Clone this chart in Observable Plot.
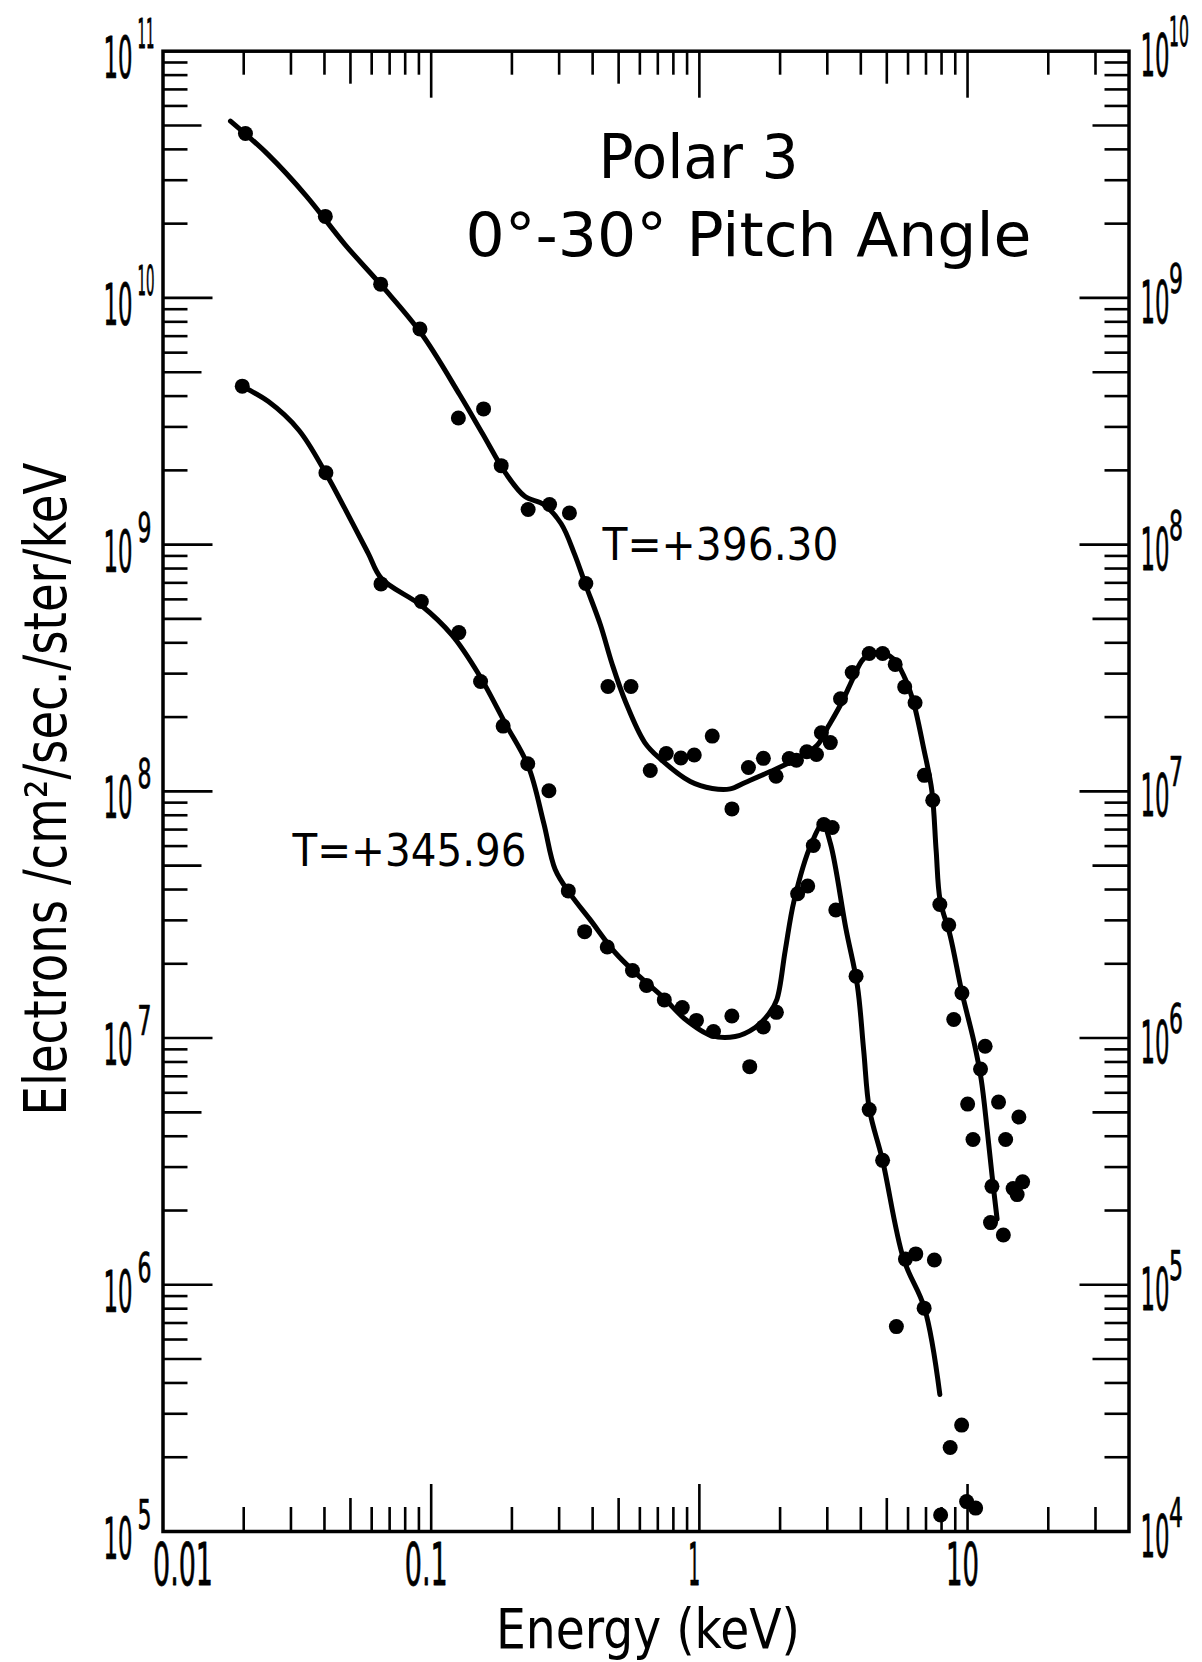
<!DOCTYPE html>
<html>
<head>
<meta charset="utf-8">
<script src="https://cdn.jsdelivr.net/npm/d3@7"></script>
<script src="https://cdn.jsdelivr.net/npm/@observablehq/plot@0.6"></script>
<style>
  html, body { margin: 0; padding: 0; background: #fff; }
</style>
</head>
<body>
<div id="chart"></div>
<script>
// ---------- DATA ----------
// T = +396.30 measured points (energy keV, flux)
const upperEnergy = [0.0203, 0.0403, 0.0648, 0.0908, 0.1263, 0.1568, 0.1824, 0.2299, 0.2763, 0.3277,
  0.3773, 0.4563, 0.5559, 0.6561, 0.7525, 0.8531, 0.957, 1.117, 1.323, 1.524,
  1.733, 1.932, 2.163, 2.301, 2.516, 2.733, 2.851, 3.078, 3.36, 3.715,
  4.298, 4.823, 5.373, 5.831, 6.373, 6.902, 7.418, 7.884, 8.509, 9.53,
  8.884, 11.63, 11.18, 10.01, 13.05, 15.54, 10.48, 13.87, 12.33, 16.05,
  14.79, 15.31, 12.18, 13.6];
const upperFlux = [4.64e10, 2.14e10, 1.137e10, 7.48e9, 3.26e9, 3.55e9, 2.09e9, 1.388e9, 1.454e9, 1.343e9,
  6.96e8, 2.66e8, 2.66e8, 1.215e8, 1.423e8, 1.365e8, 1.404e8, 1.675e8, 8.49e7, 1.249e8,
  1.361e8, 1.152e8, 1.358e8, 1.338e8, 1.448e8, 1.41e8, 1.728e8, 1.576e8, 2.373e8, 3.03e8,
  3.62e8, 3.62e8, 3.27e8, 2.65e8, 2.286e8, 1.161e8, 9.2e7, 3.477e7, 2.872e7, 1.522e7,
  1.189e7, 9.26e6, 7.49e6, 5.4e6, 5.5e6, 4.79e6, 3.88e6, 3.88e6, 2.506e6, 2.613e6,
  2.455e6, 2.32e6, 1.787e6, 1.591e6];

// T = +345.96 measured points
const lowerEnergy = [0.01975, 0.0405, 0.065, 0.0919, 0.1268, 0.1528, 0.1855, 0.2291, 0.2748, 0.3246,
  0.3734, 0.4535, 0.5631, 0.6351, 0.7401, 0.8635, 0.9754, 1.129, 1.322, 1.541,
  1.732, 1.938, 2.325, 2.535, 2.66, 2.911, 3.128, 3.227, 3.84, 4.298,
  4.823, 5.428, 5.866, 6.412, 6.889, 7.521, 8.614, 9.506, 7.937, 9.92, 10.72];
const lowerFlux = [4.39e9, 1.956e9, 6.93e8, 5.88e8, 4.4e8, 2.787e8, 1.839e8, 1.294e8, 1.006e8, 3.95e7,
  2.7e7, 2.338e7, 1.878e7, 1.635e7, 1.428e7, 1.329e7, 1.179e7, 1.063e7, 1.228e7, 7.66e6,
  1.11e7, 1.271e7, 3.844e7, 4.135e7, 6.035e7, 7.336e7, 7.135e7, 3.303e7, 1.782e7, 5.13e6,
  3.194e6, 6.77e5, 1.271e6, 1.334e6, 8.04e5, 1.26e6, 2.19e5, 2.7e5, 1.166e5, 1.322e5, 1.244e5];

// Hand-drawn fitted curves
const upperCurveEnergy = [0.01785, 0.02472, 0.03425, 0.04764, 0.06617, 0.0919, 0.1276, 0.1555, 0.1894, 0.2232,
  0.263, 0.3049, 0.3418, 0.3773, 0.4272, 0.4735, 0.5313, 0.6258, 0.7149, 0.925,
  1.117, 1.304, 1.483, 1.838, 2.277, 2.744, 3.023, 3.40, 3.756, 4.093,
  4.591, 5.294, 5.855, 6.287, 6.848, 7.36, 7.638, 7.904, 8.614, 9.53,
  10.54, 11.24, 11.83, 12.35, 12.89];
const upperCurveFlux = [5.21e10, 3.8e10, 2.588e10, 1.649e10, 1.105e10, 7.17e9, 4.06e9, 2.815e9, 1.949e9, 1.57e9,
  1.454e9, 1.218e9, 9.2e8, 6.83e8, 4.745e8, 3.266e8, 2.297e8, 1.577e8, 1.354e8, 1.096e8,
  1.027e8, 1.023e8, 1.086e8, 1.203e8, 1.345e8, 1.533e8, 1.83e8, 2.297e8, 2.9e8, 3.444e8,
  3.663e8, 3.444e8, 2.858e8, 2.297e8, 1.509e8, 1.007e8, 5.75e7, 3.609e7, 2.603e7, 1.529e7,
  9.77e6, 6.81e6, 4.27e6, 2.758e6, 1.845e6];

const lowerCurveEnergy = [0.01976, 0.02472, 0.03212, 0.04045, 0.05088, 0.05831, 0.06523, 0.0919, 0.1196, 0.1504,
  0.1894, 0.2305, 0.263, 0.29, 0.3309, 0.3901, 0.4851, 0.5818, 0.7305, 0.8763,
  1.11, 1.361, 1.616, 1.82, 1.945, 2.09, 2.256, 2.615, 2.886, 3.083,
  3.52, 3.883, 4.1, 4.309, 4.823, 5.77, 6.913, 7.884];
const lowerCurveFlux = [4.37e9, 3.8e9, 2.909e9, 1.949e9, 1.222e9, 9.2e8, 7.29e8, 5.665e8, 4.297e8, 2.983e8,
  1.876e8, 1.26e8, 7.42e7, 4.825e7, 3.823e7, 3.034e7, 2.222e7, 1.826e7, 1.468e7, 1.204e7,
  1.023e7, 1.014e7, 1.103e7, 1.257e7, 1.432e7, 2.263e7, 3.612e7, 6.13e7, 7.35e7, 6.13e7,
  2.774e7, 1.632e7, 8.9e6, 5.12e6, 3.187e6, 1.274e6, 8.03e5, 3.592e5];

// Axis ticks
const xTicksDecade = [0.1, 1, 10];
const xTicksFive = [0.05, 0.5, 5];
const xTicksMinor = [0.02, 0.03, 0.04, 0.06, 0.07, 0.08, 0.09,
  0.2, 0.3, 0.4, 0.6, 0.7, 0.8, 0.9,
  2, 3, 4, 6, 7, 8, 9, 20, 30];
const yTicksDecade = [1e6, 1e7, 1e8, 1e9, 1e10];
const yTicksFive = [5e5, 5e6, 5e7, 5e8, 5e9, 5e10];
const yTicksMinor = [
  2e5, 3e5, 4e5, 6e5, 7e5, 8e5, 9e5,
  2e6, 3e6, 4e6, 6e6, 7e6, 8e6, 9e6,
  2e7, 3e7, 4e7, 6e7, 7e7, 8e7, 9e7,
  2e8, 3e8, 4e8, 6e8, 7e8, 8e8, 9e8,
  2e9, 3e9, 4e9, 6e9, 7e9, 8e9, 9e9,
  2e10, 3e10, 4e10, 6e10, 7e10, 8e10, 9e10];

// Tick labels
const xLabelFirstValue = [0.01];
const xLabelFirstText = ["0.01"];
const xLabelValues = [0.1, 1, 10];
const xLabelTexts = ["0.1", "1", "10"];
const yLabelValues = [1e5, 1e6, 1e7, 1e8, 1e9, 1e10, 1e11];
const leftExponents = ["5", "6", "7", "8", "9", "10", "11"];
const rightExponents = ["4", "5", "6", "7", "8", "9", "10"];

// Texts
const titleLine1 = "Polar 3";
const titleLine2 = "0°-30° Pitch Angle";
const labelUpper = "T=+396.30";
const labelLower = "T=+345.96";
const yTitle = "Electrons /cm²/sec./ster/keV";
const xTitle = "Energy (keV)";

// ---------- TABLES ----------
const upperPts = upperEnergy.map((e, i) => ({e, f: upperFlux[i]}));
const lowerPts = lowerEnergy.map((e, i) => ({e, f: lowerFlux[i]}));
const upperCurve = upperCurveEnergy.map((e, i) => ({e, f: upperCurveFlux[i]}));
const lowerCurve = lowerCurveEnergy.map((e, i) => ({e, f: lowerCurveFlux[i]}));

// ---------- LAYOUT ----------
const W = 1202, H = 1662;
const ML = 162.5, MR = 73.5, MT = 50.7, MB = 131;
const innerW = W - ML - MR;
const innerH = H - MT - MB;
const FONT = "DejaVu Sans, Verdana, sans-serif";
const INK = "#000";
const tickW = 2.6;

const xt = (data, len, side) => Plot.tickX(data, {x: d => d, stroke: INK, strokeWidth: tickW,
  insetTop: side === "bottom" ? innerH - len : 0, insetBottom: side === "top" ? innerH - len : 0});
const yt = (data, len, side) => Plot.tickY(data, {y: d => d, stroke: INK, strokeWidth: tickW,
  insetLeft: side === "right" ? innerW - len : 0, insetRight: side === "left" ? innerW - len : 0});

const txt = (opts) => Object.assign({fill: INK, fontFamily: FONT, lineAnchor: "bottom"}, opts);

// text marks, each with a post-render rule:
//   len: squeeze to a width (textLength);  w/h: narrow tall digits (width, digit height)
const textMarks = [
  [Plot.text([titleLine1], txt({text: d => d, frameAnchor: "top-left", dx: 435.5, dy: 126.3, textAnchor: "start", fontSize: 60})), {len: () => 200}],
  [Plot.text([titleLine2], txt({text: d => d, frameAnchor: "top-left", dx: 302.5, dy: 204.3, textAnchor: "start", fontSize: 60})), {len: () => 566}],
  [Plot.text([labelUpper], txt({text: d => d, frameAnchor: "top-left", dx: 439.5, dy: 508.3, textAnchor: "start", fontSize: 45})), {len: () => 236}],
  [Plot.text([labelLower], txt({text: d => d, frameAnchor: "top-left", dx: 129.5, dy: 814.3, textAnchor: "start", fontSize: 45})), {len: () => 234}],
  [Plot.text([yTitle], txt({text: d => d, frameAnchor: "left", dx: -97.5, dy: -2.3, rotate: -90, textAnchor: "middle", fontSize: 58})), {len: () => 653}],
  [Plot.text([xTitle], txt({text: d => d, frameAnchor: "bottom", dx: 2, dy: 116.6, textAnchor: "middle", fontSize: 56})), {len: () => 304}],
  [Plot.text(xLabelFirstValue, txt({x: d => d, text: (d, i) => xLabelFirstText[i], frameAnchor: "bottom", dx: 20, dy: 53, textAnchor: "middle", fontSize: 24})),
    {w: () => 60, h: 43}],
  [Plot.text(xLabelValues, txt({x: d => d, text: (d, i) => xLabelTexts[i], frameAnchor: "bottom", dx: -5, dy: 53, textAnchor: "middle", fontSize: 24})),
    {w: (s) => ({"0.1": 43, "1": 12, "10": 33})[s], h: 43}],
  // left labels: "10" + exponent
  [Plot.text(yLabelValues, txt({y: d => d, text: () => "10", frameAnchor: "left", dx: -59.5, dy: 27, textAnchor: "start", fontSize: 22})),
    {w: () => 29, h: 42}],
  [Plot.text(yLabelValues, txt({y: d => d, text: (d, i) => leftExponents[i], frameAnchor: "left", dx: -25.5, dy: -3, textAnchor: "start", fontSize: 18})),
    {w: (s) => s.length > 1 ? 17 : 14, h: 30}],
  // right labels: "10" + exponent (one decade lower)
  [Plot.text(yLabelValues, txt({y: d => d, text: () => "10", frameAnchor: "right", dx: 11.5, dy: 25, textAnchor: "start", fontSize: 22})),
    {w: () => 29, h: 43}],
  [Plot.text(yLabelValues, txt({y: d => d, text: (d, i) => rightExponents[i], frameAnchor: "right", dx: 40, dy: -5, textAnchor: "start", fontSize: 18})),
    {w: (s) => s.length > 1 ? 20 : 14, h: 30}]
];

const svg = Plot.plot({
  width: W,
  height: H,
  marginLeft: ML,
  marginRight: MR,
  marginTop: MT,
  marginBottom: MB,
  style: {background: "#fff", fontFamily: FONT},
  x: {type: "log", domain: [0.01, 40], axis: null},
  y: {type: "log", domain: [1e5, 1e11], axis: null},
  marks: [
    // ticks (inside the frame, on all four sides)
    xt(xTicksDecade, 47, "top"), xt(xTicksFive, 33, "top"), xt(xTicksMinor, 24, "top"),
    xt(xTicksDecade, 47, "bottom"), xt(xTicksFive, 33, "bottom"), xt(xTicksMinor, 24, "bottom"),
    yt(yTicksDecade, 50, "left"), yt(yTicksFive, 39, "left"), yt(yTicksMinor, 25, "left"),
    yt(yTicksDecade, 49, "right"), yt(yTicksFive, 36, "right"), yt(yTicksMinor, 24, "right"),
    Plot.frame({stroke: INK, strokeWidth: 3.5}),
    // fitted curves
    Plot.line(upperCurve, {x: "e", y: "f", curve: "catmull-rom", stroke: INK, strokeWidth: 5, strokeLinecap: "round", strokeLinejoin: "round"}),
    Plot.line(lowerCurve, {x: "e", y: "f", curve: "catmull-rom", stroke: INK, strokeWidth: 5, strokeLinecap: "round", strokeLinejoin: "round"}),
    // data points
    Plot.dot(upperPts, {x: "e", y: "f", r: 7.5, fill: INK, stroke: "none"}),
    Plot.dot(lowerPts, {x: "e", y: "f", r: 7.5, fill: INK, stroke: "none"}),
    // text
    ...textMarks.map(d => d[0])
  ]
});

document.getElementById("chart").appendChild(svg);

// ---------- post-render lettering adjustments ----------
const squeeze = (el, L) => {
  el.setAttribute("textLength", L);
  el.setAttribute("lengthAdjust", "spacingAndGlyphs");
};
// narrow, tall digits: choose a font size giving the target width, then stretch vertically
const tallDigits = (t, targetW, digitH) => {
  t.setAttribute("font-size", 100);
  const w0 = t.getComputedTextLength() || 1;
  const fs = 100 * targetW / w0;
  t.setAttribute("font-size", fs.toFixed(2));
  const k = digitH / (0.729 * fs);
  let tr = t.getAttribute("transform") || "";
  const x = t.getAttribute("x"), y = t.getAttribute("y");
  if (x != null || y != null) {
    t.removeAttribute("x");
    t.removeAttribute("y");
    tr = `translate(${x || 0},${y || 0}) ` + tr;
  }
  t.setAttribute("transform", `${tr} scale(1,${k.toFixed(3)})`);
  t.setAttribute("stroke", INK);
  t.setAttribute("stroke-width", 0.6);
  t.setAttribute("stroke-linejoin", "round");
  t.setAttribute("vector-effect", "non-scaling-stroke");
};

const groups = svg.querySelectorAll('g[aria-label="text"]');
groups.forEach((g, gi) => {
  const rule = textMarks[gi] && textMarks[gi][1];
  if (!rule) return;
  g.querySelectorAll("text").forEach((t) => {
    const s = t.textContent;
    if (rule.len) {
      const L = rule.len(s);
      if (L) squeeze(t, L);
    } else if (rule.w) {
      tallDigits(t, rule.w(s), rule.h);
    }
  });
});
</script>
</body>
</html>
